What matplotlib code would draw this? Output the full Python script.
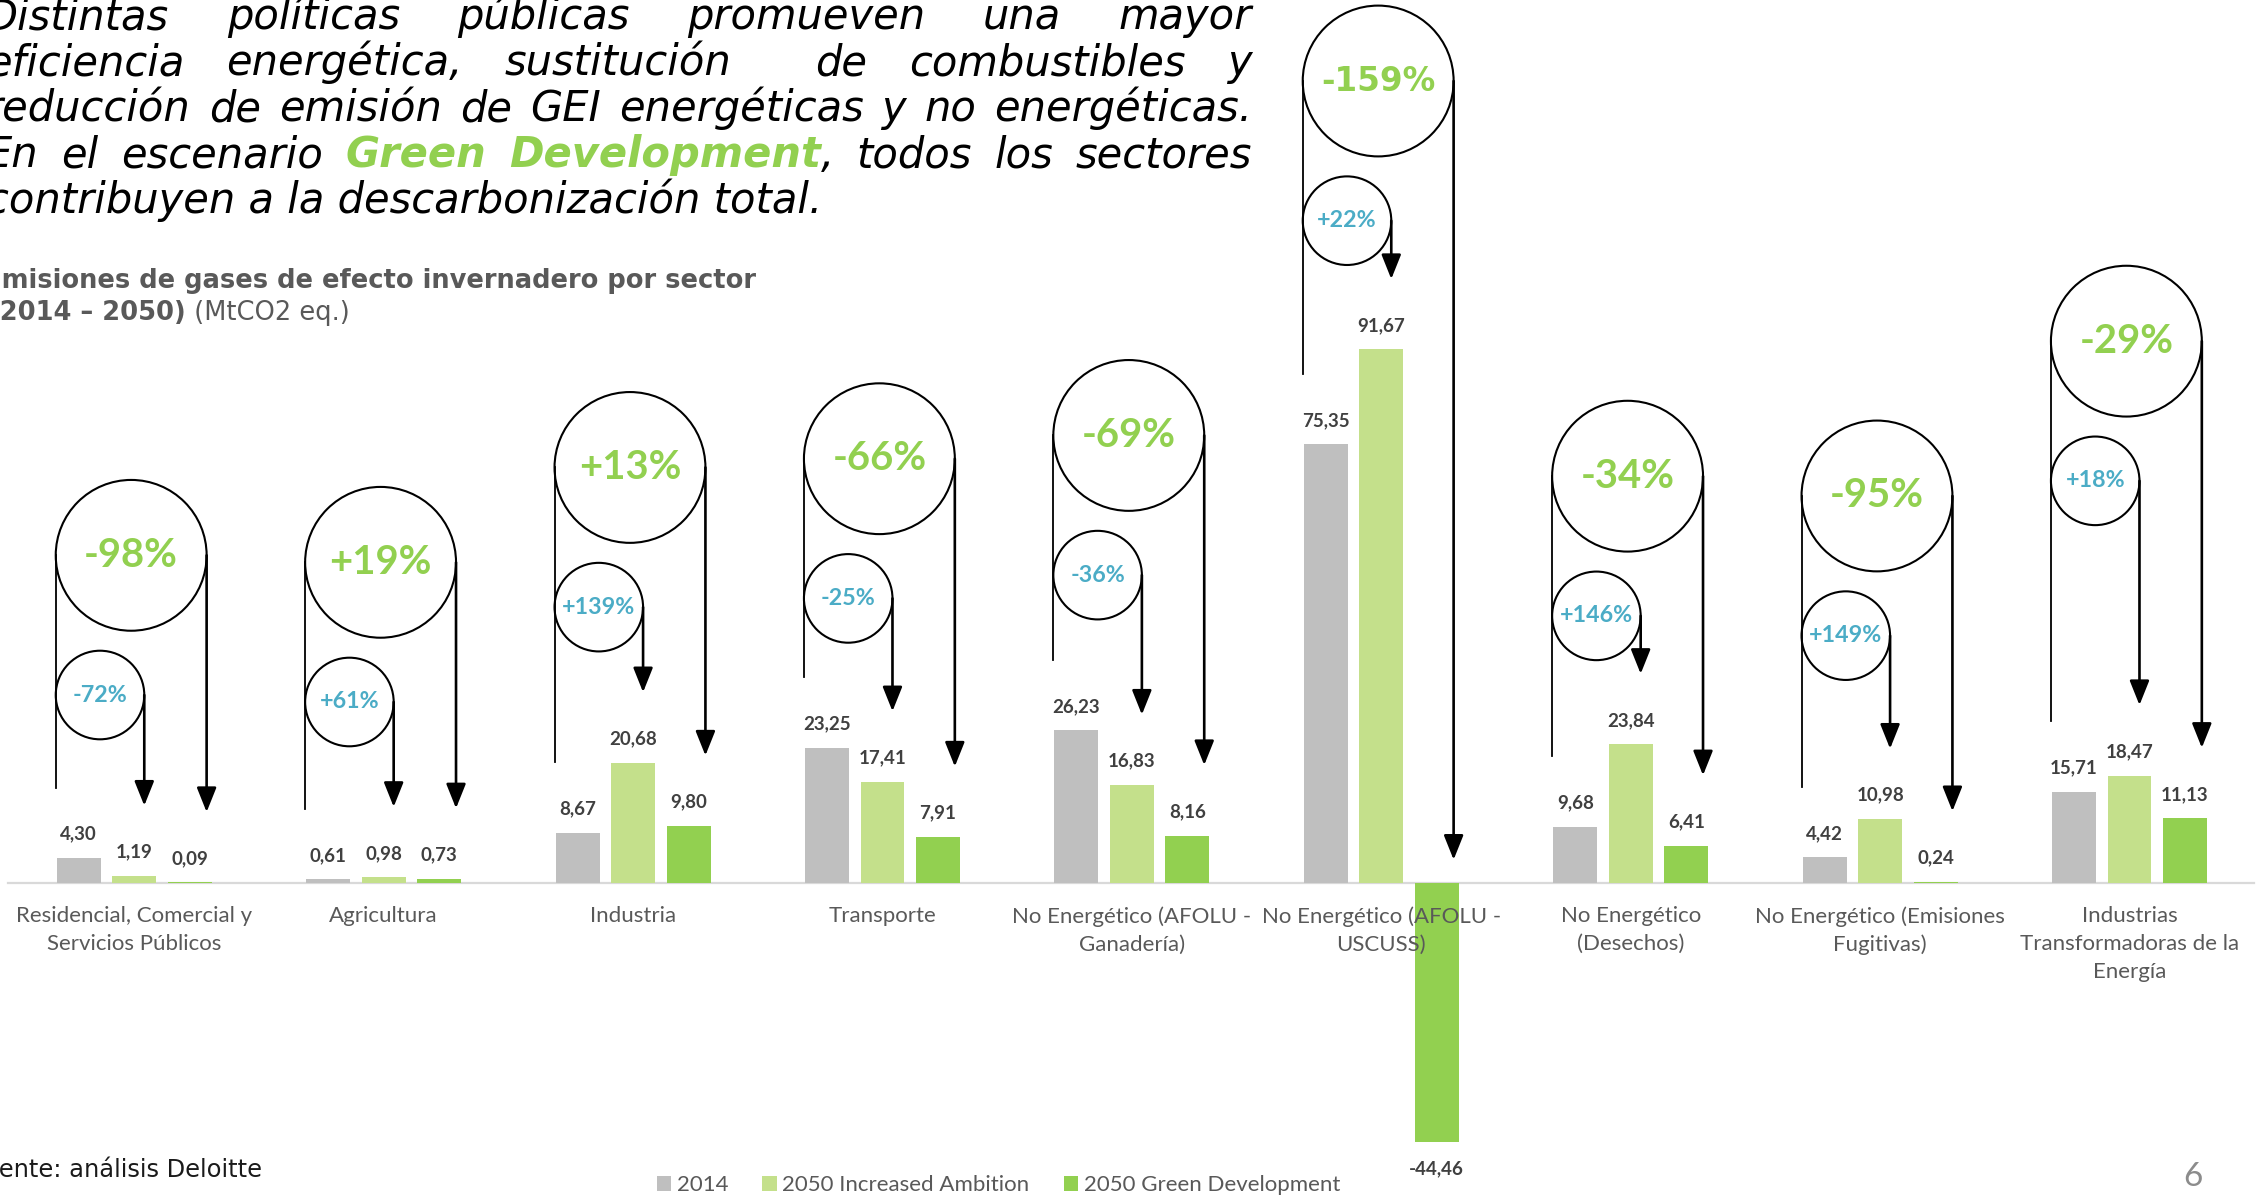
import matplotlib
matplotlib.use("Agg")
import matplotlib.pyplot as plt
from matplotlib.patches import Ellipse

# ---- data ----
sectors = ["Residencial, Comercial y\nServicios Públicos", "Agricultura", "Industria", "Transporte",
           "No Energético (AFOLU -\nGanadería)", "No Energético (AFOLU -\nUSCUSS)",
           "No Energético\n(Desechos)", "No Energético (Emisiones\nFugitivas)",
           "Industrias\nTransformadoras de la\nEnergía"]
v2014 = [4.30, 0.61, 8.67, 23.25, 26.23, 75.35, 9.68, 4.42, 15.71]
v_ia = [1.19, 0.98, 20.68, 17.41, 16.83, 91.67, 23.84, 10.98, 18.47]
v_gd = [0.09, 0.73, 9.80, 7.91, 8.16, -44.46, 6.41, 0.24, 11.13]
chg_ia = ["-72%", "+61%", "+139%", "-25%", "-36%", "+22%", "+146%", "+149%", "+18%"]
chg_gd = ["-98%", "+19%", "+13%", "-66%", "-69%", "-159%", "-34%", "-95%", "-29%"]
series = ["2014", "2050 Increased Ambition", "2050 Green Development"]

# hand placed height of the big bubbles, in MtCO2 eq.
bubble_y = [56.3, 55.1, 71.4, 72.9, 76.9, 137.8, 69.9, 66.5, 93.1]

GRAY = "#BFBFBF"
LIGHT = "#C4E08B"
GREEN = "#92D050"
BLUE = "#4BACC6"
TXT = "#404040"
LBL = "Lato"

W, H = 2264, 1196
PX_X, PX_Y = 249.4, 5.82      # pixels per category / per MtCO2
X0, Y0 = 134.3, 883.0         # pixel position of first group / zero line

fig = plt.figure(figsize=(W / 100, H / 100), dpi=100)
renderer = fig.canvas.get_renderer()
ax = fig.add_axes([0, 0, 1, 1])
ax.set_xlim(-X0 / PX_X, (W - X0) / PX_X)
ax.set_ylim(-(H - Y0) / PX_Y, Y0 / PX_Y)
ax.axis("off")


def fit(txt, target_px, **kw):
    # font size giving the text the width it has on the slide
    t = fig.text(0, 0, txt, fontsize=10, **kw)
    w = t.get_window_extent(renderer).width
    t.remove()
    return 10 * target_px / w


VAL_SIZE = fit("26,23", 48, family=LBL, fontweight="bold")
BIG_SIZE = fit("-98%", 94, family=LBL, fontweight="bold")
SMALL_SIZE = fit("+146%", 73, family=LBL, fontweight="bold")
CAT_SIZE = fit("Residencial, Comercial y", 235, family=LBL)

x = list(range(len(sectors)))
bw, off = 0.176, 0.2225
b1 = ax.bar([i - off for i in x], v2014, bw, color=GRAY, zorder=2)
b2 = ax.bar(x, v_ia, bw, color=LIGHT, zorder=2)
b3 = ax.bar([i + off for i in x], v_gd, bw, color=GREEN, zorder=2)

xl = ax.get_xlim()
ax.plot([xl[0] + 8 / PX_X, xl[1] - 10 / PX_X], [0, 0], color="#D9D9D9", lw=1.6, zorder=1)


def fmt(v):
    return f"{v:.2f}".replace(".", ",")


for dx, vals in [(-off, v2014), (0, v_ia), (off, v_gd)]:
    for i, v in enumerate(vals):
        y = v + 4.1 if v >= 0 else v - 4.6
        ax.text(i + dx, y, fmt(v), ha="center", va="center", fontsize=VAL_SIZE,
                fontweight="bold", color=TXT, family=LBL, zorder=4)

for i, name in enumerate(sectors):
    ax.text(i, -23 / PX_Y, name, ha="center", va="top", fontsize=CAT_SIZE, color="#595959",
            family=LBL, linespacing=1.5, zorder=3)


def tip(v):
    return v + 12.1 if v > 0 else 4.0


rb, rs = 0.3025, 0.1775
hb, hs = 2 * 75.4 / PX_Y, 2 * 44.3 / PX_Y
arrow = dict(arrowstyle="-|>,head_length=0.75,head_width=0.3", color="black", lw=1.9,
             mutation_scale=20, shrinkA=0, shrinkB=0)
for i in x:
    L = i - 0.315
    yb = bubble_y[i]
    ys = yb - 24
    # line leaving the 2014 bar
    ax.plot([L, L], [yb, tip(v2014[i])], color="black", lw=1.3, zorder=3)
    # big bubble -> Green Development
    ax.add_patch(Ellipse((L + rb, yb), 2 * rb, hb, fc="none", ec="black", lw=1.5, zorder=3))
    ax.annotate("", xy=(L + 2 * rb, tip(v_gd[i])), xytext=(L + 2 * rb, yb), arrowprops=arrow)
    if v_gd[i] < 0:
        ax.text(L + rb, yb, chg_gd[i], ha="center", va="center", fontsize=23.5,
                fontweight="bold", color=GREEN)
    else:
        ax.text(L + rb, yb, chg_gd[i], ha="center", va="center", fontsize=BIG_SIZE,
                fontweight="bold", color=GREEN, family=LBL)
    # small bubble -> Increased Ambition
    ax.add_patch(Ellipse((L + rs, ys), 2 * rs, hs, fc="none", ec="black", lw=1.5, zorder=3))
    ax.annotate("", xy=(L + 2 * rs, tip(v_ia[i])), xytext=(L + 2 * rs, ys), arrowprops=arrow)
    ax.text(L + rs, ys, chg_ia[i], ha="center", va="center", fontsize=SMALL_SIZE,
            fontweight="bold", color=BLUE, family=LBL)

# ---- title, justified like the slide ----
TSIZE = 30


def run(txt, kind, y_px, size=TSIZE, color="black"):
    if kind == "g":
        return fig.text(0, 1 - y_px / H, txt, fontsize=size, style="italic",
                        fontweight="bold", color=GREEN, va="baseline")
    if kind == "b":
        return fig.text(0, 1 - y_px / H, txt, fontsize=size, fontweight="bold",
                        color=color, va="baseline")
    if kind == "r":
        return fig.text(0, 1 - y_px / H, txt, fontsize=size, color=color, va="baseline")
    return fig.text(0, 1 - y_px / H, txt, fontsize=size, style="italic", color=color,
                    va="baseline")


def justify(words, y_px, x_left, x_right):
    placed = []
    total = 0
    for word in words:
        parts = []
        for txt, kind in word:
            if txt == "":
                continue
            t = run(txt, kind, y_px)
            w = t.get_window_extent(renderer).width
            parts.append((t, w))
            total += w
        placed.append(parts)
    gap = (x_right - x_left - total) / (len(words) - 1)
    xp = x_left
    for parts in placed:
        for t, w in parts:
            t.set_x(xp / W)
            xp += w
        xp += gap


title = ["Distintas políticas públicas promueven una mayor",
         "eficiencia energética, sustitución  de combustibles y",
         "reducción de emisión de GEI energéticas y no energéticas."]
base = [29, 75, 121, 167, 213]
for k, line in enumerate(title):
    justify([[(wd, "n")] for wd in line.split(" ")], base[k], -14, 1252)
line4 = [[("En", "n")], [("el", "n")], [("escenario", "n")], [("Green", "g")],
         [("Development", "g"), (",", "n")], [("todos", "n")], [("los", "n")], [("sectores", "n")]]
justify(line4, base[3], -14, 1252)
fig.text(-14 / W, 1 - base[4] / H, "contribuyen a la descarbonización total.",
         fontsize=TSIZE, style="italic", va="baseline")

# subtitle
SUB = "#595959"
run("Emisiones de gases de efecto invernadero por sector", "b", 288, 18.5, SUB).set_x(-16 / W)
t = run("(2014 – 2050)", "b", 320, 18.5, SUB)
t.set_x(-12 / W)
wb = t.get_window_extent(renderer).width
run(" (MtCO2 eq.)", "r", 320, 18.5, SUB).set_x((-12 + wb) / W)

# legend, source, page
fig.legend([b1, b2, b3], series, loc="center", bbox_to_anchor=(0.441, 0.009), ncol=3,
           frameon=False, handlelength=0.65, handleheight=0.65, handletextpad=0.25,
           columnspacing=1.55, prop={"family": LBL, "size": CAT_SIZE}, labelcolor="#595959")
fig.text(-29 / W, 1 - 1177 / H, "Fuente: análisis Deloitte", fontsize=17.4,
         color="#1A1A1A", va="baseline")
fig.text(2193 / W, 1 - 1177 / H, "6", fontsize=24, family=LBL, color="#8C8C8C",
         ha="center", va="center")

fig.savefig("out.png", dpi=100)
